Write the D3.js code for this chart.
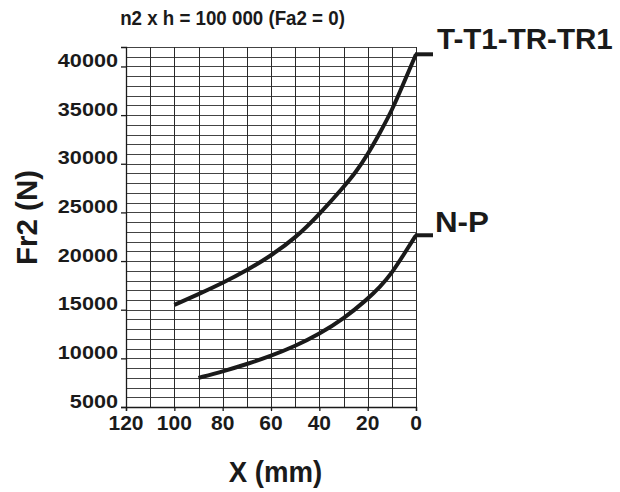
<!DOCTYPE html>
<html><head><meta charset="utf-8">
<script src="https://cdn.jsdelivr.net/npm/d3@7"></script>
<style>html,body{margin:0;padding:0;background:#fff;}svg{display:block;}</style>
</head><body><svg id="c" width="620" height="492"></svg>
<script>
// ---- data ----
const title = "n2 x h = 100 000 (Fa2 = 0)";
const xLabel = "X (mm)";
const yLabel = "Fr2 (N)";
const xTicks = [120, 100, 80, 60, 40, 20, 0];
const yTicks = [5000, 10000, 15000, 20000, 25000, 30000, 35000, 40000];
const seriesNames = ["T-T1-TR-TR1", "N-P"];
const xUpper = [100, 90, 80, 70, 60, 50, 40, 30, 25, 20, 15, 10, 5, 0];
const yUpper = [15500, 16600, 17750, 19050, 20550, 22350, 24800, 27600, 29100, 30950, 33150, 35450, 38350, 41250];
const xLower = [90, 80, 70, 60, 50, 40, 30, 20, 15, 10, 5, 0];
const yLower = [8000, 8650, 9400, 10250, 11250, 12500, 14050, 16100, 17300, 18750, 20700, 22650];

// ---- chart ----
const svg = d3.select("#c");
const ink = "#1a1a1a";
const font = "'Liberation Sans', Arial, sans-serif";
const x = d3.scaleLinear().domain([120, 0]).range([126, 416]);
const y = d3.scaleLinear().domain([5000, 42000]).range([407, 47]);

const g = svg.append("g");
// grid
g.selectAll("line.h").data(d3.range(5000, 42001, 1000)).join("line")
  .attr("x1", x(120)).attr("x2", x(0))
  .attr("y1", d => Math.round(y(d)) + 0.5).attr("y2", d => Math.round(y(d)) + 0.5)
  .attr("stroke", "#444").attr("stroke-width", 1);
g.selectAll("line.v").data(d3.range(0, 121, 10)).join("line")
  .attr("x1", d => Math.round(x(d)) + 0.5).attr("x2", d => Math.round(x(d)) + 0.5)
  .attr("y1", y(42000)).attr("y2", y(5000))
  .attr("stroke", "#2a2a2a").attr("stroke-width", 1);

// axes
const yAxis = d3.axisLeft(y).tickValues(yTicks).tickSize(5).tickFormat("");
const xAxis = d3.axisBottom(x).tickValues(xTicks).tickSize(4).tickFormat("");
const ya = svg.append("g").attr("transform", `translate(${x(120)},0)`).call(yAxis);
const xa = svg.append("g").attr("transform", `translate(0,${y(5000)})`).call(xAxis);
[ya, xa].forEach(a => { a.selectAll("path,line").attr("stroke", ink).attr("stroke-width", 1.3); });

// y tick labels
svg.selectAll("text.yt").data(yTicks).join("text")
  .attr("transform", d => `translate(118,${y(d) + 0.5}) scale(1.17,1)`)
  .attr("text-anchor", "end").attr("font-family", font).attr("font-weight", "bold")
  .attr("font-size", 18.5).attr("fill", ink).text(d => d);
// x tick labels
svg.selectAll("text.xt").data(xTicks).join("text")
  .attr("transform", d => `translate(${x(d)},429.5) scale(1.05,1)`)
  .attr("text-anchor", "middle").attr("font-family", font).attr("font-weight", "bold")
  .attr("font-size", 20).attr("fill", ink).text(d => d);

// curves
const line = d3.line().x(d => x(d[0])).y(d => y(d[1])).curve(d3.curveBasis);
const series = [d3.zip(xUpper, yUpper), d3.zip(xLower, yLower)];
series.forEach((pts, i) => {
  svg.append("path").datum(pts).attr("d", line)
    .attr("fill", "none").attr("stroke", ink).attr("stroke-width", 4).attr("stroke-linecap", "butt").attr("stroke-linejoin", "round");
  const end = pts[pts.length - 1];
  svg.append("line").attr("x1", x(end[0]) - 1).attr("x2", x(end[0]) + 17)
    .attr("y1", y(end[1])).attr("y2", y(end[1]))
    .attr("stroke", ink).attr("stroke-width", 4);
});
// series labels
svg.append("text").attr("transform", `translate(437,${y(yUpper[yUpper.length-1]) - 5.5}) scale(1.02,1)`)
  .attr("font-family", font).attr("font-weight", "bold").attr("font-size", 29).attr("fill", ink).text(seriesNames[0]);
svg.append("text").attr("transform", `translate(435,${y(yLower[yLower.length-1]) - 3}) scale(1.08,1)`)
  .attr("font-family", font).attr("font-weight", "bold").attr("font-size", 29).attr("fill", ink).text(seriesNames[1]);

// title and axis titles
svg.append("text").attr("transform", "translate(232.5,25) scale(0.96,1)").attr("text-anchor", "middle")
  .attr("font-family", font).attr("font-weight", "bold").attr("font-size", 19.5).attr("fill", ink).text(title);
svg.append("text").attr("transform", "translate(275.5,482) scale(0.92,1)").attr("text-anchor", "middle")
  .attr("font-family", font).attr("font-weight", "bold").attr("font-size", 30).attr("fill", ink).text(xLabel);
svg.append("text").attr("transform", "translate(36.5,217.5) rotate(-90)").attr("text-anchor", "middle")
  .attr("font-family", font).attr("font-weight", "bold").attr("font-size", 29.5).attr("fill", ink).text(yLabel);
</script></body></html>
